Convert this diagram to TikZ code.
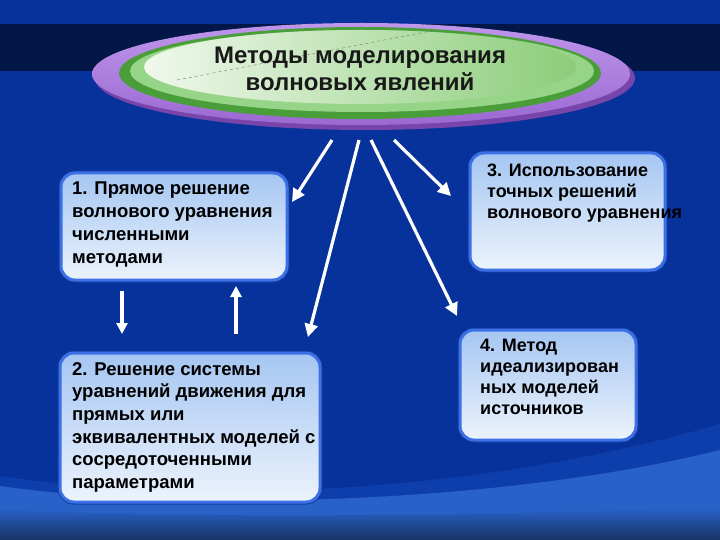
\documentclass[tikz,border=0pt]{standalone}
\usepackage{fontspec}
\setmainfont{Liberation Sans}
\usetikzlibrary{arrows.meta}
\definecolor{bgblue}{RGB}{8,50,155}
\definecolor{bandnavy}{RGB}{3,22,72}
\definecolor{swA}{RGB}{14,62,172}
\definecolor{swB}{RGB}{40,98,200}
\definecolor{swC}{RGB}{24,50,100}
\definecolor{purpdark}{RGB}{120,70,170}
\definecolor{purptop}{RGB}{190,150,235}
\definecolor{purpbot}{RGB}{155,105,210}
\definecolor{greenring}{RGB}{74,158,58}
\definecolor{greenlight}{RGB}{150,212,135}
\definecolor{innerL}{RGB}{240,248,236}
\definecolor{innerR}{RGB}{140,205,122}
\definecolor{boxborder}{RGB}{60,112,230}
\definecolor{boxshadow}{RGB}{20,60,160}
\definecolor{boxtop}{RGB}{165,198,242}
\definecolor{boxbot}{RGB}{236,243,252}
\tikzset{
  box/.style={draw=boxborder, line width=3pt, rounded corners=14pt,
    top color=boxtop, bottom color=boxbot, inner sep=0pt, anchor=north west,
    preaction={draw=boxshadow, line width=5pt}},
  btext/.style={anchor=north west, inner sep=0pt, align=left, text=black,
    font=\bfseries\fontsize{18.5}{22.7}\selectfont},
  btextb/.style={btext, font=\bfseries\fontsize{18}{21}\selectfont},
  arr/.style={draw=white, line width=3.2pt, -{Triangle[length=13pt,width=13pt]}},
  varr/.style={draw=white, line width=3.4pt, -{Triangle[length=11pt,width=11pt]}},
}
\begin{document}
\begin{tikzpicture}[x=1pt,y=-1pt]
\useasboundingbox (0,0) rectangle (720,540);
% background
\fill[bgblue] (0,0) rectangle (720,540);
\fill[bandnavy] (0,24) rectangle (720,71);
\fill[swA] (0,476) .. controls (200,506) and (480,494) .. (720,424) -- (720,540) -- (0,540) -- cycle;
\fill[swB] (0,486) .. controls (180,512) and (500,505) .. (720,450) -- (720,540) -- (0,540) -- cycle;
\shade[top color=swB, bottom color=swC] (0,510) .. controls (250,520) and (500,514) .. (720,508) -- (720,540) -- (0,540) -- cycle;
% title ellipse
\fill[purpdark] (365,78) ellipse [x radius=270, y radius=52];
\shade[top color=purptop, bottom color=purpbot] (361,74) ellipse [x radius=269, y radius=51];
\fill[greenring] (360,73) ellipse [x radius=241, y radius=46];
\fill[greenlight] (362,71) ellipse [x radius=232, y radius=41];
\shade[left color=innerL, right color=innerR] (360,67) ellipse [x radius=216, y radius=37];
\draw[black!55, dashed, line width=0.4pt] (177,80) -- (431,31);
\node[font=\bfseries\fontsize{24}{27}\selectfont, align=center, text=black!90] (title) at (360,69) {Методы моделирования\\волновых явлений};
% boxes
\node[box, minimum width=226pt, minimum height=107pt] (b1) at (59.5,171.5) {};
\node[box, minimum width=260pt, minimum height=149pt] (b2) at (58.5,351.5) {};
\node[box, minimum width=195pt, minimum height=117pt] (b3) at (468.5,151.5) {};
\node[box, minimum width=176pt, minimum height=110pt] (b4) at (458.5,328.5) {};
\node[btext] (t1) at (72,182) {1. Прямое решение\\волнового уравнения\\численными\\методами};
\node[btext] (t2) at (72,362) {2. Решение системы\\уравнений движения для\\прямых или\\эквивалентных моделей с\\сосредоточенными\\параметрами};
\node[btextb] (t3) at (487,164) {3. Использование\\точных решений\\волнового уравнения};
\node[btextb] (t4) at (480,339) {4. Метод\\идеализирован\\ных моделей\\источников};
% arrows
\coordinate (s1) at (332,140); \coordinate (e1) at (292,202);
\coordinate (s2) at (359,140); \coordinate (e2) at (308,337);
\coordinate (s3) at (371,140); \coordinate (e3) at (457,316);
\coordinate (s4) at (394,140); \coordinate (e4) at (451,196);
\draw[arr] (s1) -- (e1);
\draw[arr] (s2) -- (e2);
\draw[arr] (s3) -- (e3);
\draw[arr] (s4) -- (e4);
\coordinate (d1) at (122,291); \coordinate (d2) at (122,334);
\coordinate (u1) at (236,334); \coordinate (u2) at (236,286);
\draw[varr] (d1) -- (d2);
\draw[varr] (u1) -- (u2);
\end{tikzpicture}
\end{document}
